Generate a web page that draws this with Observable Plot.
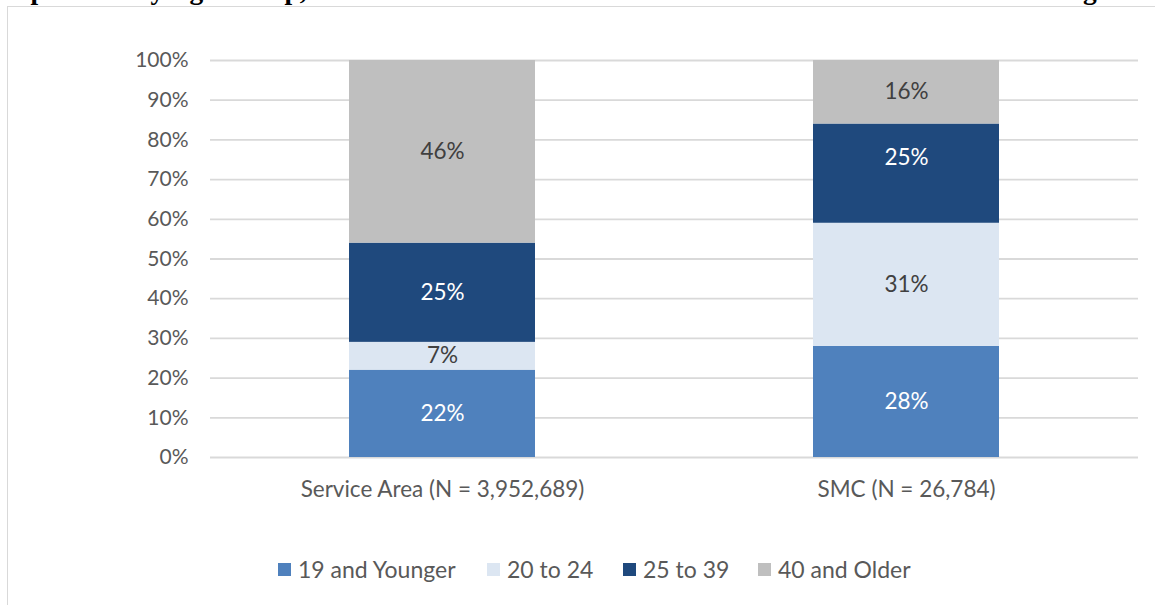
<!DOCTYPE html>
<html>
<head>
<meta charset="utf-8">
<script src="https://cdn.jsdelivr.net/npm/d3@7"></script>
<script src="https://cdn.jsdelivr.net/npm/@observablehq/plot@0.6"></script>
<style>
  html, body { margin: 0; padding: 0; background: #fff; }
  #wrap { position: relative; width: 1155px; height: 605px; overflow: hidden; background: #fff; }
  #frame { position: absolute; left: 7px; top: 6px; width: 1160px; height: 610px;
           border-top: 1.5px solid #d9d9d9; border-left: 1.5px solid #d9d9d9; box-sizing: border-box; }
  #title { position: absolute; left: 0; top: 0; }
  #chart { position: absolute; left: 0; top: 0; }
  #legend { position: absolute; left: 0; top: 556px; width: 1155px; height: 26px;
            font-family: Lato, sans-serif; font-size: 23px; color: #595959; }
  .item { position: absolute; top: 0; display: flex; align-items: center; height: 26px; white-space: nowrap; }
  .sw { width: 13px; height: 13px; margin-right: 7px; }
</style>
</head>
<body>
<div id="wrap">
  <div id="frame"></div>
  <svg id="title" width="1155" height="12"></svg>
  <div id="chart"></div>
  <div id="legend"></div>
</div>
<script>
const titleText = "Population by Age Group, Residents of the Service Area and Students at Santa Monica College";
const groups = ["Service Area (N = 3,952,689)", "SMC (N = 26,784)"];
const ageGroups = ["19 and Younger", "20 to 24", "25 to 39", "40 and Older"];
const serviceArea = [22, 7, 25, 46];
const smc = [28, 31, 25, 16];
const colors = ["#4f81bd", "#dce6f2", "#1f497d", "#bfbfbf"];
const labelColors = ["#ffffff", "#404040", "#ffffff", "#404040"];
const yTicks = [0, 10, 20, 30, 40, 50, 60, 70, 80, 90, 100];
const legendX = [278, 487, 623, 758];
// the one data label the reference shows raised above its segment's middle
const raisedLabel = {group: "SMC (N = 26,784)", age: "25 to 39"};

const data = [];
[serviceArea, smc].forEach((vals, gi) => {
  vals.forEach((v, ai) => data.push({group: groups[gi], age: ageGroups[ai], value: v, ai,
    raised: groups[gi] === raisedLabel.group && ageGroups[ai] === raisedLabel.age}));
});

// clipped title
d3.select("#title").append("text")
  .attr("x", 0).attr("y", -1)
  .attr("font-family", "'Liberation Serif', 'Times New Roman', serif")
  .attr("font-weight", "bold")
  .attr("font-size", 27.5)
  .attr("fill", "#000")
  .text(titleText);

const font = "Lato, sans-serif";
const stackOpts = {x: "group", y: "value", z: "age", order: null};
const labelOpts = (raised) => Plot.stackY({...stackOpts,
  text: d => (d.raised === raised ? d.value + "%" : null),
  fill: d => labelColors[d.ai], fontSize: 22.5});

const chart = Plot.plot({
  width: 1155,
  height: 520,
  marginLeft: 210,
  marginRight: 17,
  marginTop: 60,
  marginBottom: 63,
  style: {fontFamily: font, fontSize: "21px", color: "#595959", background: "transparent", overflow: "visible"},
  x: {domain: groups, paddingInner: 0.6, paddingOuter: 0.3, label: null},
  y: {domain: [0, 100], label: null},
  color: {domain: ageGroups, range: colors},
  marks: [
    Plot.ruleY(yTicks, {stroke: "#d9d9d9", strokeWidth: 1.8}),
    Plot.barY(data, Plot.stackY({...stackOpts, fill: "age"})),
    Plot.text(data, labelOpts(false)),
    Plot.text(data, {...labelOpts(true), dy: -16}),
    Plot.axisY({ticks: yTicks, tickFormat: d => d + "%", tickSize: 0, tickPadding: 22, fill: "#595959", fontSize: 21}),
    Plot.axisX({tickSize: 0, tickPadding: 24, fill: "#595959", fontSize: 22.5})
  ]
});
document.getElementById("chart").appendChild(chart);

const leg = d3.select("#legend");
ageGroups.forEach((a, i) => {
  const it = leg.append("div").attr("class", "item").style("left", legendX[i] + "px");
  it.append("div").attr("class", "sw").style("background", colors[i]);
  it.append("span").text(a);
});
</script>
</body>
</html>
